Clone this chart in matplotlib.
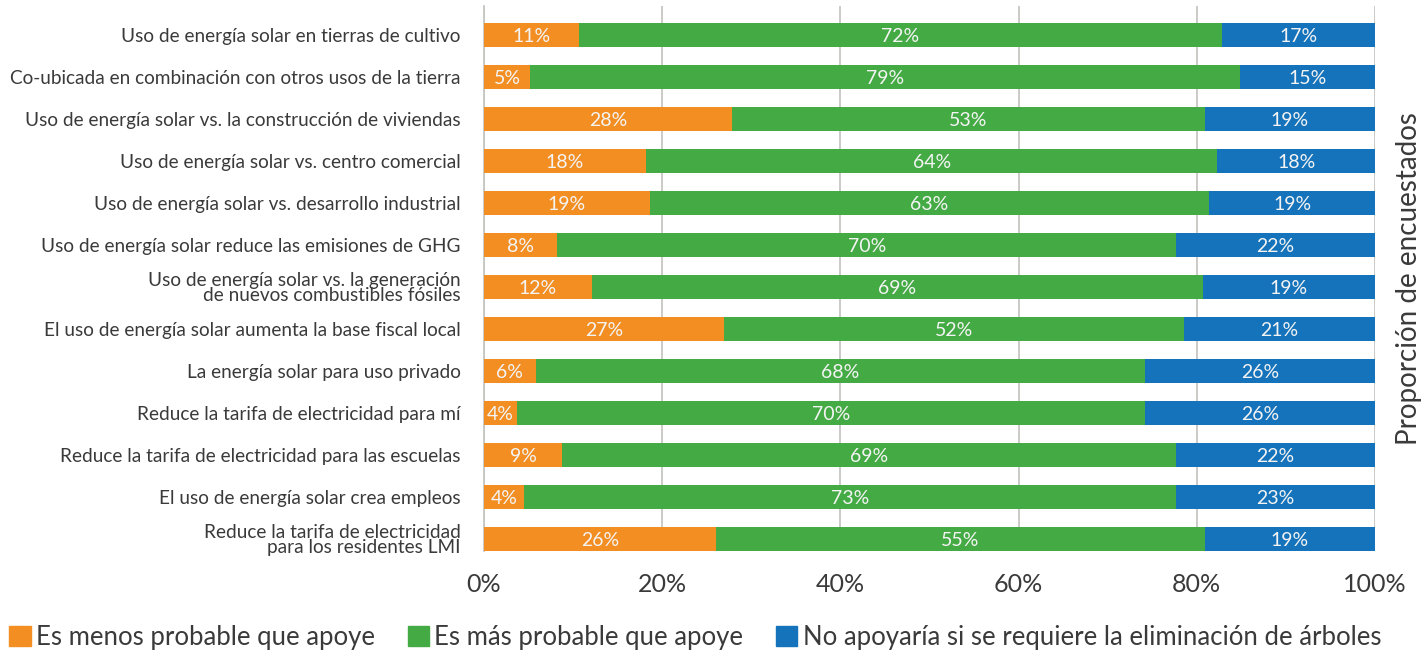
import numpy as np
import matplotlib.pyplot as plt
from matplotlib.patches import Patch

plt.rcParams['font.family'] = ['Lato', 'DejaVu Sans']

categories = ['Uso de energía solar en tierras de cultivo',
              'Co-ubicada en combinación con otros usos de la tierra',
              'Uso de energía solar vs. la construcción de viviendas',
              'Uso de energía solar vs. centro comercial',
              'Uso de energía solar vs. desarrollo industrial',
              'Uso de energía solar reduce las emisiones de GHG',
              'Uso de energía solar vs. la generación\nde nuevos combustibles fósiles',
              'El uso de energía solar aumenta la base fiscal local',
              'La energía solar para uso privado',
              'Reduce la tarifa de electricidad para mí',
              'Reduce la tarifa de electricidad para las escuelas',
              'El uso de energía solar crea empleos',
              'Reduce la tarifa de electricidad\npara los residentes LMI']

# bar widths (share of respondents, %)
less_likely = [10.7, 5.2, 27.8, 18.2, 18.6, 8.2, 12.1, 26.9, 5.8, 3.7, 8.8, 4.5, 26.0]
more_likely = [72.1, 79.6, 53.1, 64.1, 62.8, 69.5, 68.6, 51.7, 68.4, 70.5, 68.9, 73.2, 54.9]
no_trees = [17.2, 15.3, 19.1, 17.7, 18.6, 22.3, 19.3, 21.4, 25.8, 25.8, 22.3, 22.3, 19.1]

# printed labels
less_lbl = [11, 5, 28, 18, 19, 8, 12, 27, 6, 4, 9, 4, 26]
more_lbl = [72, 79, 53, 64, 63, 70, 69, 52, 68, 70, 69, 73, 55]
no_lbl = [17, 15, 19, 18, 19, 22, 19, 21, 26, 26, 22, 23, 19]

series_names = ['Es menos probable que apoye', 'Es más probable que apoye',
                'No apoyaría si se requiere la eliminación de árboles']
colors = ['#F28E22', '#44AA44', '#1473BA']
txt = '#3a3a3a'

fig = plt.figure(figsize=(14.27, 6.5), dpi=100)
ax = fig.add_axes([484 / 1427, 1 - 551 / 650, 891 / 1427, 545 / 650])

y = np.arange(len(categories))
h = 0.57
left = np.zeros(len(categories))
for vals, lbls, c in zip([less_likely, more_likely, no_trees],
                         [less_lbl, more_lbl, no_lbl], colors):
    vals = np.array(vals)
    ax.barh(y, vals, left=left, height=h, color=c, zorder=3)
    for yi, l, v, t in zip(y, left, vals, lbls):
        ax.text(l + v / 2, yi + 0.03, f'{t}%', ha='center', va='center',
                color='#f4f4f4', fontsize=14, zorder=4)
    left = left + vals

ax.set_xlim(0, 100)
ax.set_ylim(12 + h / 2, -0.69)
ax.set_yticks(y)
ax.set_yticklabels(categories, fontsize=13.7, color=txt, linespacing=0.9)
ax.set_xticks([0, 20, 40, 60, 80, 100])
ax.set_xticklabels(['0%', '20%', '40%', '60%', '80%', '100%'], fontsize=18,
                   color=txt)
ax.tick_params(axis='both', length=0)
ax.tick_params(axis='y', pad=17)
ax.tick_params(axis='x', pad=16)
ax.grid(axis='x', color='#c8c6c2', linewidth=1.3, zorder=0)
for s in ['top', 'right', 'bottom']:
    ax.spines[s].set_visible(False)
ax.spines['left'].set_color('#c8c6c2')
ax.spines['left'].set_linewidth(1.3)

ax.yaxis.set_label_position('right')
ax.set_ylabel('Proporción de encuestados', fontsize=20, color=txt, labelpad=15)

handles = [Patch(color=c) for c in colors]
fig.legend(handles, series_names, loc='lower left', bbox_to_anchor=(0.003, -0.008),
           ncol=3, frameon=False, handlelength=0.85, handleheight=0.85,
           handletextpad=0.2, columnspacing=1.25, labelcolor=txt,
           borderaxespad=0, borderpad=0.2, prop={'size': 18.5})

fig.savefig('out.png', dpi=100)
